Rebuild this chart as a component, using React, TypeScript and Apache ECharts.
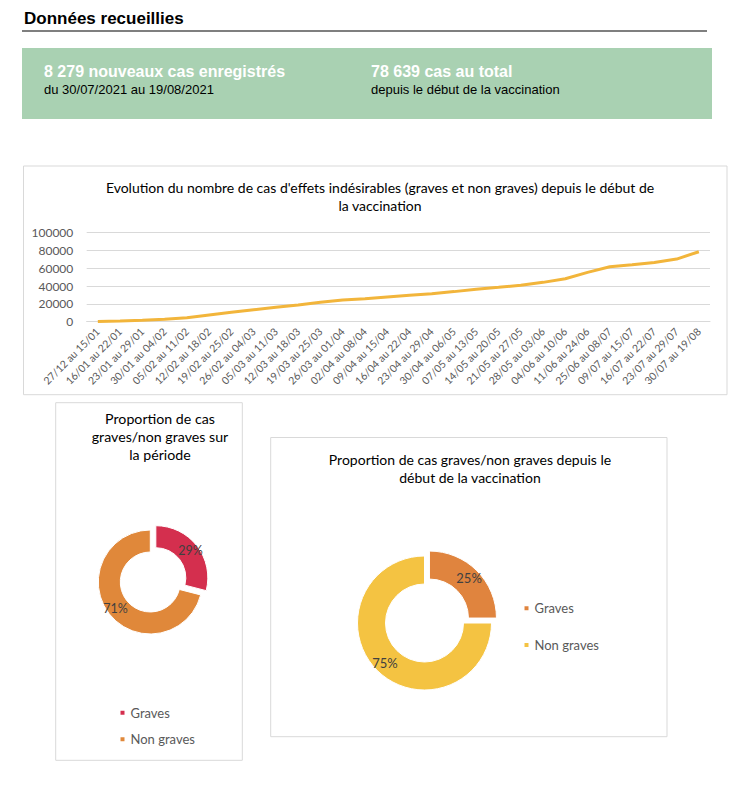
import React, { useEffect, useRef } from "react";
import * as echarts from "echarts";

const categories = [
  "27/12 au 15/01", "16/01 au 22/01", "23/01 au 29/01", "30/01 au 04/02",
  "05/02 au 11/02", "12/02 au 18/02", "19/02 au 25/02", "26/02 au 04/03",
  "05/03 au 11/03", "12/03 au 18/03", "19/03 au 25/03", "26/03 au 01/04",
  "02/04 au 08/04", "09/04 au 15/04", "16/04 au 22/04", "23/04 au 29/04",
  "30/04 au 06/05", "07/05 au 13/05", "14/05 au 20/05", "21/05 au 27/05",
  "28/05 au 03/06", "04/06 au 10/06", "11/06 au 24/06", "25/06 au 08/07",
  "09/07 au 15/07", "16/07 au 22/07", "23/07 au 29/07", "30/07 au 19/08",
];
const cumulativeCases = [
  300, 800, 1500, 2700, 4500, 7500, 10500, 13500, 16200, 18800, 21800, 24400,
  25900, 27800, 29700, 31500, 33800, 36400, 38600, 40900, 44200, 48300, 55400,
  61700, 63900, 66600, 70360, 78639,
];
const yTicks = [0, 20000, 40000, 60000, 80000, 100000];
const pieNames = ["Graves", "Non graves"];
const periodShares = [29, 71];
const totalShares = [25, 75];

const FONT = "Lato";
const HEAD = "Liberation Sans";

export default function App() {
  const ref = useRef<HTMLDivElement>(null);
  useEffect(() => {
    const chart = echarts.init(ref.current!, undefined, { renderer: "svg" });
    const leftColors = ["#D42F4E", "#E0883A"];
    const rightColors = ["#E0843E", "#F4C342"];
    const text = (t: string, x: number, y: number, font: string, fill: string, align = "left", lh?: number) => ({
      type: "text",
      style: { text: t, x, y, font, fill, textAlign: align, verticalAlign: "middle", lineHeight: lh },
      silent: true,
    });
    const box = (x: number, y: number, w: number, h: number) => ({
      type: "rect",
      shape: { x, y, width: w, height: h },
      style: { fill: "none", stroke: "#d9d9d9", lineWidth: 1 },
      silent: true,
    });
    chart.setOption({
      animation: false,
      graphic: [
        text("Données recueillies", 24, 18, `bold 17px "${HEAD}"`, "#000"),
        { type: "line", shape: { x1: 22, y1: 31, x2: 707, y2: 31 }, style: { stroke: "#000", lineWidth: 1.2 }, silent: true },
        { type: "rect", shape: { x: 22, y: 48, width: 690, height: 71 }, style: { fill: "#A9D1B2" }, silent: true },
        text("8 279 nouveaux cas enregistrés", 44, 71, `bold 16px "${HEAD}"`, "#ffffff"),
        text("du 30/07/2021 au 19/08/2021", 44, 89, `13px "${HEAD}"`, "#000"),
        text("78 639 cas au total", 371, 71, `bold 16px "${HEAD}"`, "#ffffff"),
        text("depuis le début de la vaccination", 371, 89, `13px "${HEAD}"`, "#000"),
        box(23.5, 166, 703.5, 228.7),
        box(55.7, 402.7, 186.6, 357.6),
        box(270.7, 437.5, 396.3, 299.2),
        text(
          "Evolution du nombre de cas d'effets indésirables (graves et non graves) depuis le début de\nla vaccination",
          380, 196, `14px "${FONT}"`, "#000", "center", 18
        ),
        text("Proportion de cas\ngraves/non graves sur\nla période", 160, 436.5, `14.2px "${FONT}"`, "#000", "center", 18.2),
        text("Proportion de cas graves/non graves depuis le\ndébut de la vaccination", 470, 468.5, `14px "${FONT}"`, "#000", "center", 18.4),
      ],
      grid: { left: 86.7, right: 29, top: 232.7, bottom: 785 - 321.7, containLabel: false },
      xAxis: {
        type: "category",
        data: categories,
        boundaryGap: true,
        axisLine: { show: true, lineStyle: { color: "#d9d9d9" } },
        axisTick: { show: false },
        axisLabel: { interval: 0, rotate: 45, fontSize: 10.5, fontFamily: FONT, color: "#595959", margin: 8 },
      },
      yAxis: {
        type: "value",
        min: yTicks[0],
        max: yTicks[yTicks.length - 1],
        interval: yTicks[1] - yTicks[0],
        axisLine: { show: false },
        axisTick: { show: false },
        splitLine: { lineStyle: { color: "#d9d9d9", width: 1 } },
        axisLabel: { fontSize: 12, fontFamily: FONT, color: "#595959", margin: 13.4, formatter: (v: number) => String(v) },
      },
      legend: [
        {
          orient: "vertical",
          left: 118.5,
          top: 705.7,
          padding: 0,
          itemWidth: 6,
          itemHeight: 6,
          itemGap: 12.6,
          icon: "rect",
          selectedMode: false,
          textStyle: { fontSize: 13, fontFamily: FONT, color: "#595959", lineHeight: 14 },
          data: pieNames.map((n, i) => ({ name: n, itemStyle: { color: leftColors[i] } })),
        },
        {
          orient: "vertical",
          left: 522.5,
          top: 601.3,
          padding: 0,
          itemWidth: 6,
          itemHeight: 6,
          itemGap: 22.7,
          icon: "rect",
          selectedMode: false,
          textStyle: { fontSize: 13, fontFamily: FONT, color: "#595959", lineHeight: 14 },
          data: pieNames.map((n, i) => ({ name: n, itemStyle: { color: rightColors[i] } })),
        },
      ],
      series: [
        {
          type: "line",
          data: cumulativeCases,
          symbol: "none",
          lineStyle: { color: "#F2B53B", width: 3 },
          itemStyle: { color: "#F2B53B" },
        },
        {
          type: "pie",
          center: [150.3, 582],
          radius: [30, 52],
          startAngle: 90,
          clockwise: true,
          selectedMode: "single",
          selectedOffset: 7,
          emphasis: { disabled: true },
          label: { show: true, position: "inside", formatter: "{d}%", fontSize: 12.5, fontFamily: FONT, color: "#404040" },
          labelLine: { show: false },
          itemStyle: { borderColor: "#fff", borderWidth: 1 },
          data: pieNames.map((n, i) => ({ name: n, value: periodShares[i], selected: i === 0, itemStyle: { color: leftColors[i] } })),
        },
        {
          type: "pie",
          center: [424.5, 623],
          radius: [39, 67],
          startAngle: 90,
          clockwise: true,
          selectedMode: "single",
          selectedOffset: 7,
          emphasis: { disabled: true },
          label: { show: true, position: "inside", formatter: "{d}%", fontSize: 13, fontFamily: FONT, color: "#404040" },
          labelLine: { show: false },
          itemStyle: { borderColor: "#fff", borderWidth: 1 },
          data: pieNames.map((n, i) => ({ name: n, value: totalShares[i], selected: i === 0, itemStyle: { color: rightColors[i] } })),
        },
      ],
    });
    return () => chart.dispose();
  }, []);
  return <div ref={ref} style={{ position: "absolute", left: 0, top: 0, width: 739, height: 785, background: "#fff" }} />;
}
